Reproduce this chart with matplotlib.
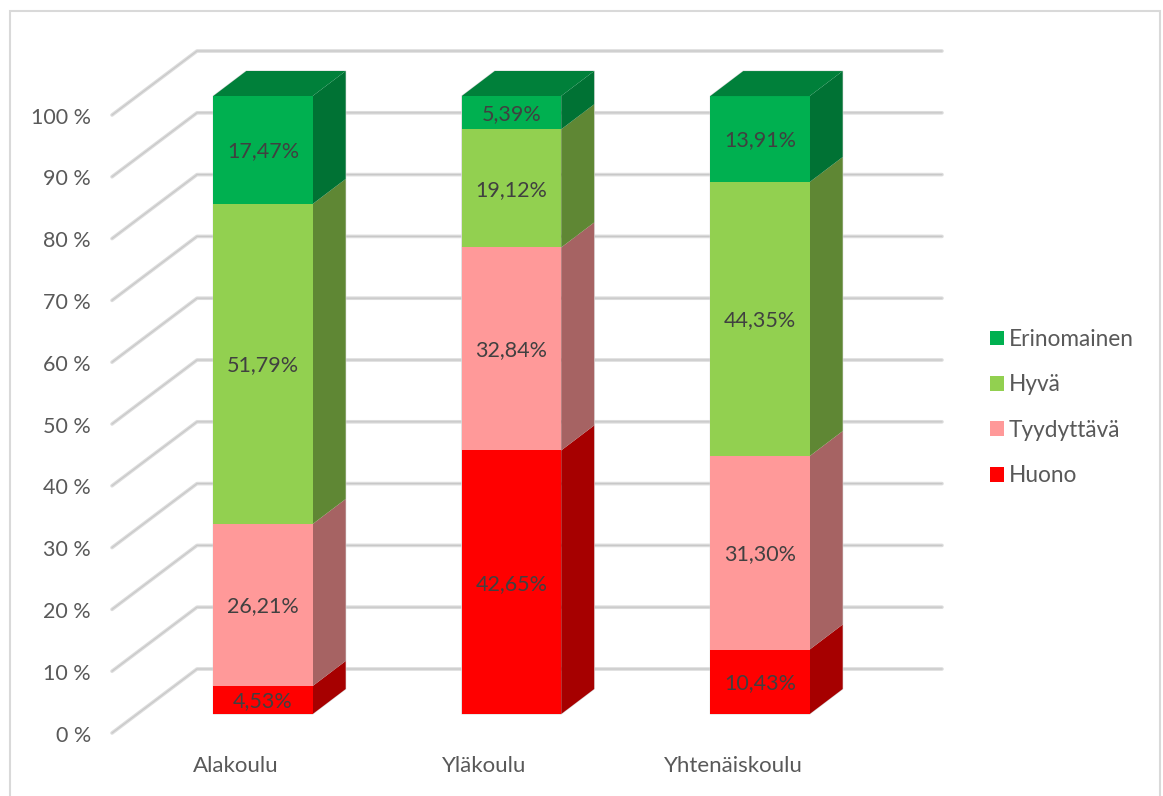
import matplotlib.pyplot as plt
from matplotlib.patches import Patch, Polygon, Rectangle
from matplotlib.colors import to_rgb

schools = ["Alakoulu", "Yläkoulu", "Yhtenäiskoulu"]
grades = ["Huono", "Tyydyttävä", "Hyvä", "Erinomainen"]
huono = [4.53, 42.65, 10.43]
tyydyttava = [26.21, 32.84, 31.30]
hyva = [51.79, 19.12, 44.35]
erinomainen = [17.47, 5.39, 13.91]
colors = ["#FF0000", "#FF9999", "#92D050", "#00B050"]
y_ticks = [0, 10, 20, 30, 40, 50, 60, 70, 80, 90, 100]

W, H = 1163, 796
# pixel scale of the axes: one category = 248.5 px, one percent = 6.18 px
PX_X = 248.5
PX_Y = 6.18
X0, Y0 = 263, 714


def shade(color, factor):
    return tuple(c * factor for c in to_rgb(color))


plt.rcParams["font.family"] = ["Lato", "DejaVu Sans"]
fig = plt.figure(figsize=(W / 100, H / 100), dpi=100)
ax = fig.add_axes([0, 0, 1, 1])
ax.set_xlim(-X0 / PX_X, (W - X0) / PX_X)
ax.set_ylim(-(H - Y0) / PX_Y, Y0 / PX_Y)
ax.axis("off")

# chart frame, the bottom edge is cut off by the picture
ax.add_patch(Rectangle((10 / PX_X - X0 / PX_X, -(810 - Y0) / PX_Y),
                       1150 / PX_X, 799 / PX_Y,
                       fc="white", ec="#d9d9d9", lw=1.5, zorder=0))

# gridlines with the wall going back to the left
wall_left = (112 - X0) / PX_X
wall_back = (197 - X0) / PX_X
grid_right = (942 - X0) / PX_X
for t in y_ticks:
    xs = [wall_left, wall_back, grid_right]
    ys = [t - 19 / PX_Y, t + 45 / PX_Y, t + 45 / PX_Y]
    ax.plot(xs, ys, color="#dcdcdc", lw=2.6, zorder=1, solid_capstyle="round")
    ax.plot(xs, ys, color="#c8c8c8", lw=0.8, zorder=1.1, solid_capstyle="round")
    ax.text(wall_left - 21 / PX_X, t - 21.5 / PX_Y, f"{t} %", ha="right", va="center",
            fontsize=15.5, color="#595959")

# stacked boxes
half = 49.7 / PX_X
dx = 33 / PX_X
dy = 25 / PX_Y
series = [huono, tyydyttava, hyva, erinomainen]
for i, school in enumerate(schools):
    bottom = 0
    for vals, color in zip(series, colors):
        v = vals[i]
        top = bottom + v
        # side face
        ax.add_patch(Polygon([(i + half, bottom), (i + half + dx, bottom + dy),
                              (i + half + dx, top + dy), (i + half, top)],
                             fc=shade(color, 0.65), ec="none", zorder=3))
        ax.add_patch(Rectangle((i - half, bottom), 2 * half, v,
                               fc=color, ec="none", zorder=3))
        ax.text(i, bottom + v / 2 - 1.5 / PX_Y, f"{v:.2f}%".replace(".", ","),
                ha="center", va="center", fontsize=15.5, color="#404040", zorder=5)
        bottom = top
    # top face
    ax.add_patch(Polygon([(i - half, bottom), (i - half + dx, bottom + dy),
                          (i + half + dx, bottom + dy), (i + half, bottom)],
                         fc=shade(colors[-1], 0.73), ec="none", zorder=3))
    # thin light outline around the box
    ax.add_patch(Polygon([(i - half, 0), (i + half, 0), (i + half + dx, dy),
                          (i + half + dx, bottom + dy), (i - half + dx, bottom + dy),
                          (i - half, bottom)],
                         fill=False, ec="#d9d9d9", lw=0.8, zorder=2.9))
    ax.text(i - 27 / PX_X, -52 / PX_Y, school, ha="center", va="center",
            fontsize=16, color="#595959")

# legend, last series first
handles = [Patch(fc=c, ec="none") for c in colors[::-1]]
ax.legend(handles, grades[::-1], loc="center left",
          bbox_to_anchor=(990 / W, 1 - 407.5 / H), frameon=False,
          fontsize=16.3, labelcolor="#595959", handlelength=0.62, handleheight=0.62,
          handletextpad=0.22, labelspacing=1.08, borderpad=0, borderaxespad=0)

fig.savefig("out.png", dpi=100)
